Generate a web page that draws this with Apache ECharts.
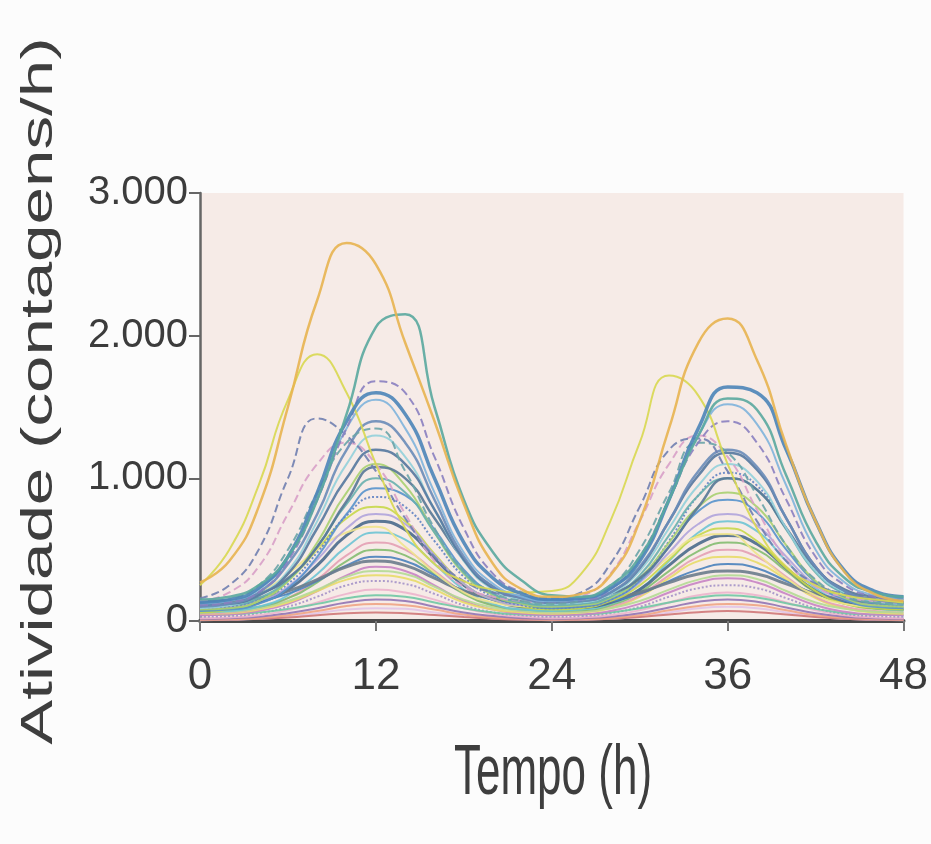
<!DOCTYPE html>
<html>
<head>
<meta charset="utf-8">
<script src="https://cdn.jsdelivr.net/npm/echarts@6.0.0/dist/echarts.min.js"></script>
<style>
  html, body { margin: 0; padding: 0; background: #fcfcfc; }
  #chart { width: 931px; height: 844px; }
</style>
</head>
<body>
<div id="chart"></div>
<script>
// ---- data ----
const hours = [0,2,4,6,8,10,12,14,16,18,20,22,24,26,28,30,32,34,36,38,40,42,44,46,48];
const xTicks = [0, 12, 24, 36, 48];
const yTicks = [0, 1000, 2000, 3000];
const xTitle = 'Tempo (h)';
const yTitle = 'Atividade (contagens/h)';

const r01 = [270,420,800,1500,2250,2650,2500,1950,1400,820,400,220,170,190,320,700,1350,1950,2120,1830,1230,700,340,190,140];
const r02 = [250,500,950,1550,1870,1600,1100,650,400,280,220,200,210,330,700,1250,1720,1580,1100,650,380,250,180,150,130];
const r03 = [150,170,250,450,850,1450,2060,2150,1500,850,480,280,180,170,250,450,850,1300,1560,1480,1020,560,300,200,170];
const r04 = [130,150,230,450,900,1400,1600,1450,1000,550,300,190,150,160,230,420,850,1350,1640,1600,1200,700,350,210,170];
const r05 = [110,130,200,420,850,1350,1680,1600,1150,650,330,200,150,150,220,450,850,1250,1400,1250,850,450,250,170,140];
const r06 = [160,250,500,1000,1420,1300,1050,720,450,280,200,170,160,200,400,800,1200,1280,1050,700,420,260,190,160,150];
const r07 = [120,140,220,450,850,1350,1550,1350,900,480,260,170,140,150,220,430,850,1300,1520,1380,950,500,270,180,150];
const r08 = [100,120,200,400,750,1200,1400,1250,850,450,240,160,130,140,200,380,700,1050,1200,1080,720,380,210,150,130];
const r09 = [90,110,180,350,700,1100,1300,1150,780,420,220,150,120,130,190,350,650,950,1100,980,650,350,200,140,120];
const r10 = [110,120,180,330,650,1000,1200,1100,780,430,230,160,130,140,200,370,700,1020,1180,1060,720,380,210,150,130];
const r11 = [140,200,380,750,1100,1250,1100,750,420,240,170,140,130,170,330,700,1100,1300,1150,780,430,240,170,140,130];
const r12 = [80,90,140,280,550,900,1100,950,620,330,180,120,100,110,160,300,550,800,900,800,530,280,160,110,100];
const r13 = [100,110,160,290,520,820,1000,900,620,340,190,130,110,120,170,320,600,880,1000,920,640,340,190,130,115];
const r14 = [70,80,120,230,450,750,930,880,640,360,190,120,90,100,150,280,520,770,850,760,500,270,150,100,90];
const r15 = [60,80,140,280,500,720,800,700,470,260,150,100,80,90,140,250,430,600,650,560,370,210,120,90,80];
const r16 = [90,100,140,240,430,650,750,680,460,260,150,110,100,110,150,270,480,680,750,670,450,250,150,110,100];
const r17 = [80,90,130,220,390,600,700,640,440,250,150,100,90,95,130,220,390,540,600,540,370,210,130,95,85];
const r18 = [60,70,100,180,330,520,620,570,400,220,120,80,70,80,120,220,420,620,700,630,420,230,130,90,75];
const r19 = [50,60,90,160,290,460,550,500,350,200,110,70,60,65,100,180,320,450,500,450,310,170,100,70,60];
const r20 = [70,80,100,160,270,420,500,460,330,190,110,80,70,75,110,200,350,490,550,500,350,200,120,85,75];
const r21 = [110,115,140,190,280,390,450,420,320,210,150,120,110,115,140,190,280,360,400,370,280,190,140,120,110];
const r22 = [130,135,160,210,290,380,420,390,300,210,160,140,130,135,160,200,270,330,350,330,260,190,150,135,130];
const r23 = [40,45,70,120,210,320,380,350,250,140,80,50,40,45,70,120,200,270,300,270,190,110,65,45,40];
const r24 = [50,55,80,130,210,290,320,300,220,130,80,60,50,60,90,170,300,420,450,410,290,160,90,60,50];
const r25 = [30,35,55,100,170,250,280,260,190,110,60,40,30,35,55,100,170,230,250,230,160,90,50,35,30];
const r26 = [20,25,40,75,130,190,220,200,150,90,50,30,20,25,40,75,130,180,200,180,130,75,40,25,20];
const r27 = [40,45,60,85,120,160,180,170,130,90,60,45,40,45,60,90,130,165,180,165,125,85,55,45,40];
const r28 = [15,20,30,55,90,130,150,140,100,60,35,20,15,20,30,55,95,135,150,135,95,55,30,20,15];
const r29 = [10,12,20,40,70,105,120,110,80,45,25,15,10,12,20,40,75,105,120,110,75,40,22,14,10];
const r30 = [5,8,15,30,55,80,90,85,60,35,18,10,6,8,15,30,60,90,100,90,60,30,15,8,5];
const r31 = [140,145,190,300,520,840,1080,1000,720,430,240,170,145,150,190,300,520,800,1000,920,650,370,220,170,150];
const r32 = [100,120,190,330,500,620,660,520,340,200,130,105,100,110,160,280,450,590,610,470,300,180,120,100,95];
const r33 = [120,150,250,500,900,1250,1350,1050,650,350,200,140,120,140,240,500,900,1250,1180,880,530,290,170,130,120];
const r34 = [90,100,150,260,480,740,870,800,560,310,170,110,90,100,150,290,560,880,1040,950,650,350,190,120,100];
const r35 = [8,10,15,25,40,55,60,55,42,28,15,10,8,10,15,28,45,62,70,62,45,28,15,10,8];
const r36 = [60,65,90,140,220,310,350,330,240,150,95,70,60,65,90,140,220,290,320,295,210,130,85,65,60];

const records = [r30,r35,r29,r28,r26,r25,r27,r23,r24,r19,r36,r20,r18,r17,r21,r22,r15,r32,r16,r14,r34,r12,r13,r31,r09,r10,r11,r08,r33,r06,r07,r05,r02,r04,r03,r01];

// ---- styles (kept separate from values) ----
const colors = ['#e2c4e6','#d07878','#f0a484','#9274b4','#ecb4cc','#a492c8','#70c8a4','#c884c4','#e8dc68','#e4a0b4','#b4da94','#84bc70','#6ec4d4','#4a6a8c','#4a82bc','#6b7c8c','#c8d84a','#f0e48c','#b0a4dc','#5894cc','#6284c4','#a8d070','#68b0ae','#587896','#92d0da','#55789e','#d8a0c8','#6a8cb8','#6aa4a8','#7080b0','#80b4dc','#8a80c0','#d8d850','#4d85b8','#5aa89f','#e8b450'];
const lineTypes = ['solid','solid','solid','solid','solid','dotted','solid','solid','solid','solid','solid','solid','solid','solid','solid','solid','solid','solid','solid','solid','dotted','solid','solid','solid','solid','solid','dashed','solid','dashed','dashed','solid','dashed','solid','solid','solid','solid'];
const widths = [2,2,2,2,2,2,2,2,2,2,2,2,2,3,2,3,2,2,2,2,2,2,2,2.5,2,2.5,2,2.5,2,2,2,2,2,3.5,2.5,2.5];

const fmt = v => String(v).replace(/\B(?=(\d{3})+(?!\d))/g, '.');
const FONT = "'Liberation Sans', Arial, Helvetica, sans-serif";

const chart = echarts.init(document.getElementById('chart'), null, { renderer: 'canvas' });

const series = records.map((vals, k) => ({
  type: 'line',
  smooth: true,
  showSymbol: false,
  silent: true,
  data: hours.map((h, i) => [h, vals[i]]),
  lineStyle: { color: colors[k], width: widths[k], type: lineTypes[k], opacity: 0.9 },
  z: 2
}));

chart.setOption({
  backgroundColor: '#fcfcfc',
  animation: false,
  grid: {
    left: 200, right: 24, top: 193, bottom: 223,
    show: true, backgroundColor: '#f6ebe7', borderWidth: 0
  },
  xAxis: {
    type: 'value', min: xTicks[0], max: xTicks[xTicks.length - 1], interval: 12,
    axisLine: { show: true, onZero: false, lineStyle: { color: '#4a4a4a', width: 4 } },
    axisTick: { show: true, length: 10, lineStyle: { color: '#777', width: 2 } },
    axisLabel: { margin: 34, fontFamily: FONT, fontSize: 44, color: '#3c3c3c',
                 formatter: v => String(v) },
    splitLine: { show: false }
  },
  yAxis: {
    type: 'value', min: yTicks[0], max: yTicks[yTicks.length - 1], interval: 1000,
    axisLine: { show: true, lineStyle: { color: '#666', width: 2.5 } },
    axisTick: { show: true, length: 11, lineStyle: { color: '#666', width: 2 } },
    axisLabel: { margin: 12, fontFamily: FONT, fontSize: 40, color: '#3c3c3c',
                 formatter: v => fmt(v) },
    splitLine: { show: false }
  },
  graphic: [
    { type: 'text', x: 40, y: 391, rotation: Math.PI / 2, scaleX: 1.53, scaleY: 1,
      style: { text: yTitle, fontFamily: FONT, fontSize: 44, fill: '#3e3e3e',
               align: 'center', verticalAlign: 'middle' } },
    { type: 'text', x: 553, y: 775, scaleX: 1.0, scaleY: 1.59,
      style: { text: xTitle, fontFamily: FONT, fontSize: 44, fill: '#3e3e3e',
               align: 'center', verticalAlign: 'middle' } }
  ],
  series: series
});
</script>
</body>
</html>
